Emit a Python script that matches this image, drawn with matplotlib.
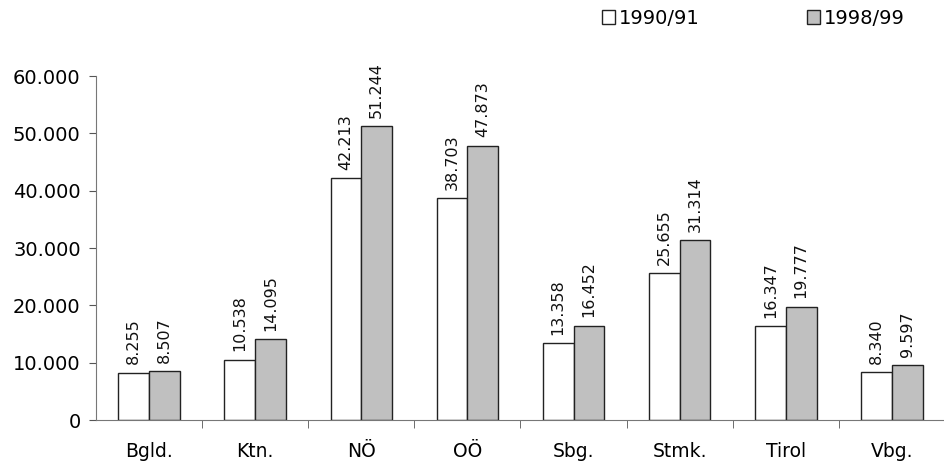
import matplotlib.pyplot as plt
import numpy as np

laender = ['Bgld.', 'Ktn.', 'NÖ', 'OÖ', 'Sbg.', 'Stmk.', 'Tirol', 'Vbg.']
w_1990 = [8255, 10538, 42213, 38703, 13358, 25655, 16347, 8340]
w_1998 = [8507, 14095, 51244, 47873, 16452, 31314, 19777, 9597]
jahre = ['1990/91', '1998/99']


def punkt(v):
    # Tausenderpunkt statt Komma
    return f'{v:,.0f}'.replace(',', '.')


plt.rcParams['font.family'] = ['DejaVu Sans']
fig = plt.figure(figsize=(9.45, 4.7), dpi=100)
ax = fig.add_axes([96 / 945, 50 / 470, 1 - 96 / 945, 344 / 470])

x = np.arange(len(laender))
b = 0.29
r1 = ax.bar(x - b / 2, w_1990, b, color='white', edgecolor='#222222', linewidth=1, label=jahre[0])
r2 = ax.bar(x + b / 2, w_1998, b, color='#c0c0c0', edgecolor='#222222', linewidth=1, label=jahre[1])

for bars, werte in ((r1, w_1990), (r2, w_1998)):
    for rect, v in zip(bars, werte):
        ax.annotate(punkt(v), (rect.get_x() + rect.get_width() / 2, v),
                    xytext=(0, 6), textcoords='offset points',
                    rotation=90, ha='center', va='bottom', fontsize=11.5, color='#111111')

ax.set_xlim(-0.5, 7.5)
ax.set_ylim(0, 60000)
ax.set_yticks(range(0, 60001, 10000))
ax.set_yticklabels([punkt(v) for v in range(0, 60001, 10000)])
ax.set_xticks(x)
ax.set_xticklabels(laender)
ax.set_xticks(np.arange(0.5, 7.5, 1), minor=True)
ax.tick_params(axis='x', which='major', length=0, pad=16, labelsize=13.5)
ax.tick_params(axis='x', which='minor', length=6, color='#555555', direction='out')
ax.tick_params(axis='y', length=5, color='#555555', labelsize=14, pad=6)

for s in ['top', 'right']:
    ax.spines[s].set_visible(False)
for s in ['left', 'bottom']:
    ax.spines[s].set_color('#777777')

fig.legend(handles=[r1, r2], labels=jahre, loc='upper left', bbox_to_anchor=(588 / 945, 1.01),
           ncol=2, frameon=False, fontsize=14, handlelength=0.7, handleheight=0.7,
           handletextpad=0.2, columnspacing=5.5, borderaxespad=0.3)

fig.savefig('out.png', dpi=100)
